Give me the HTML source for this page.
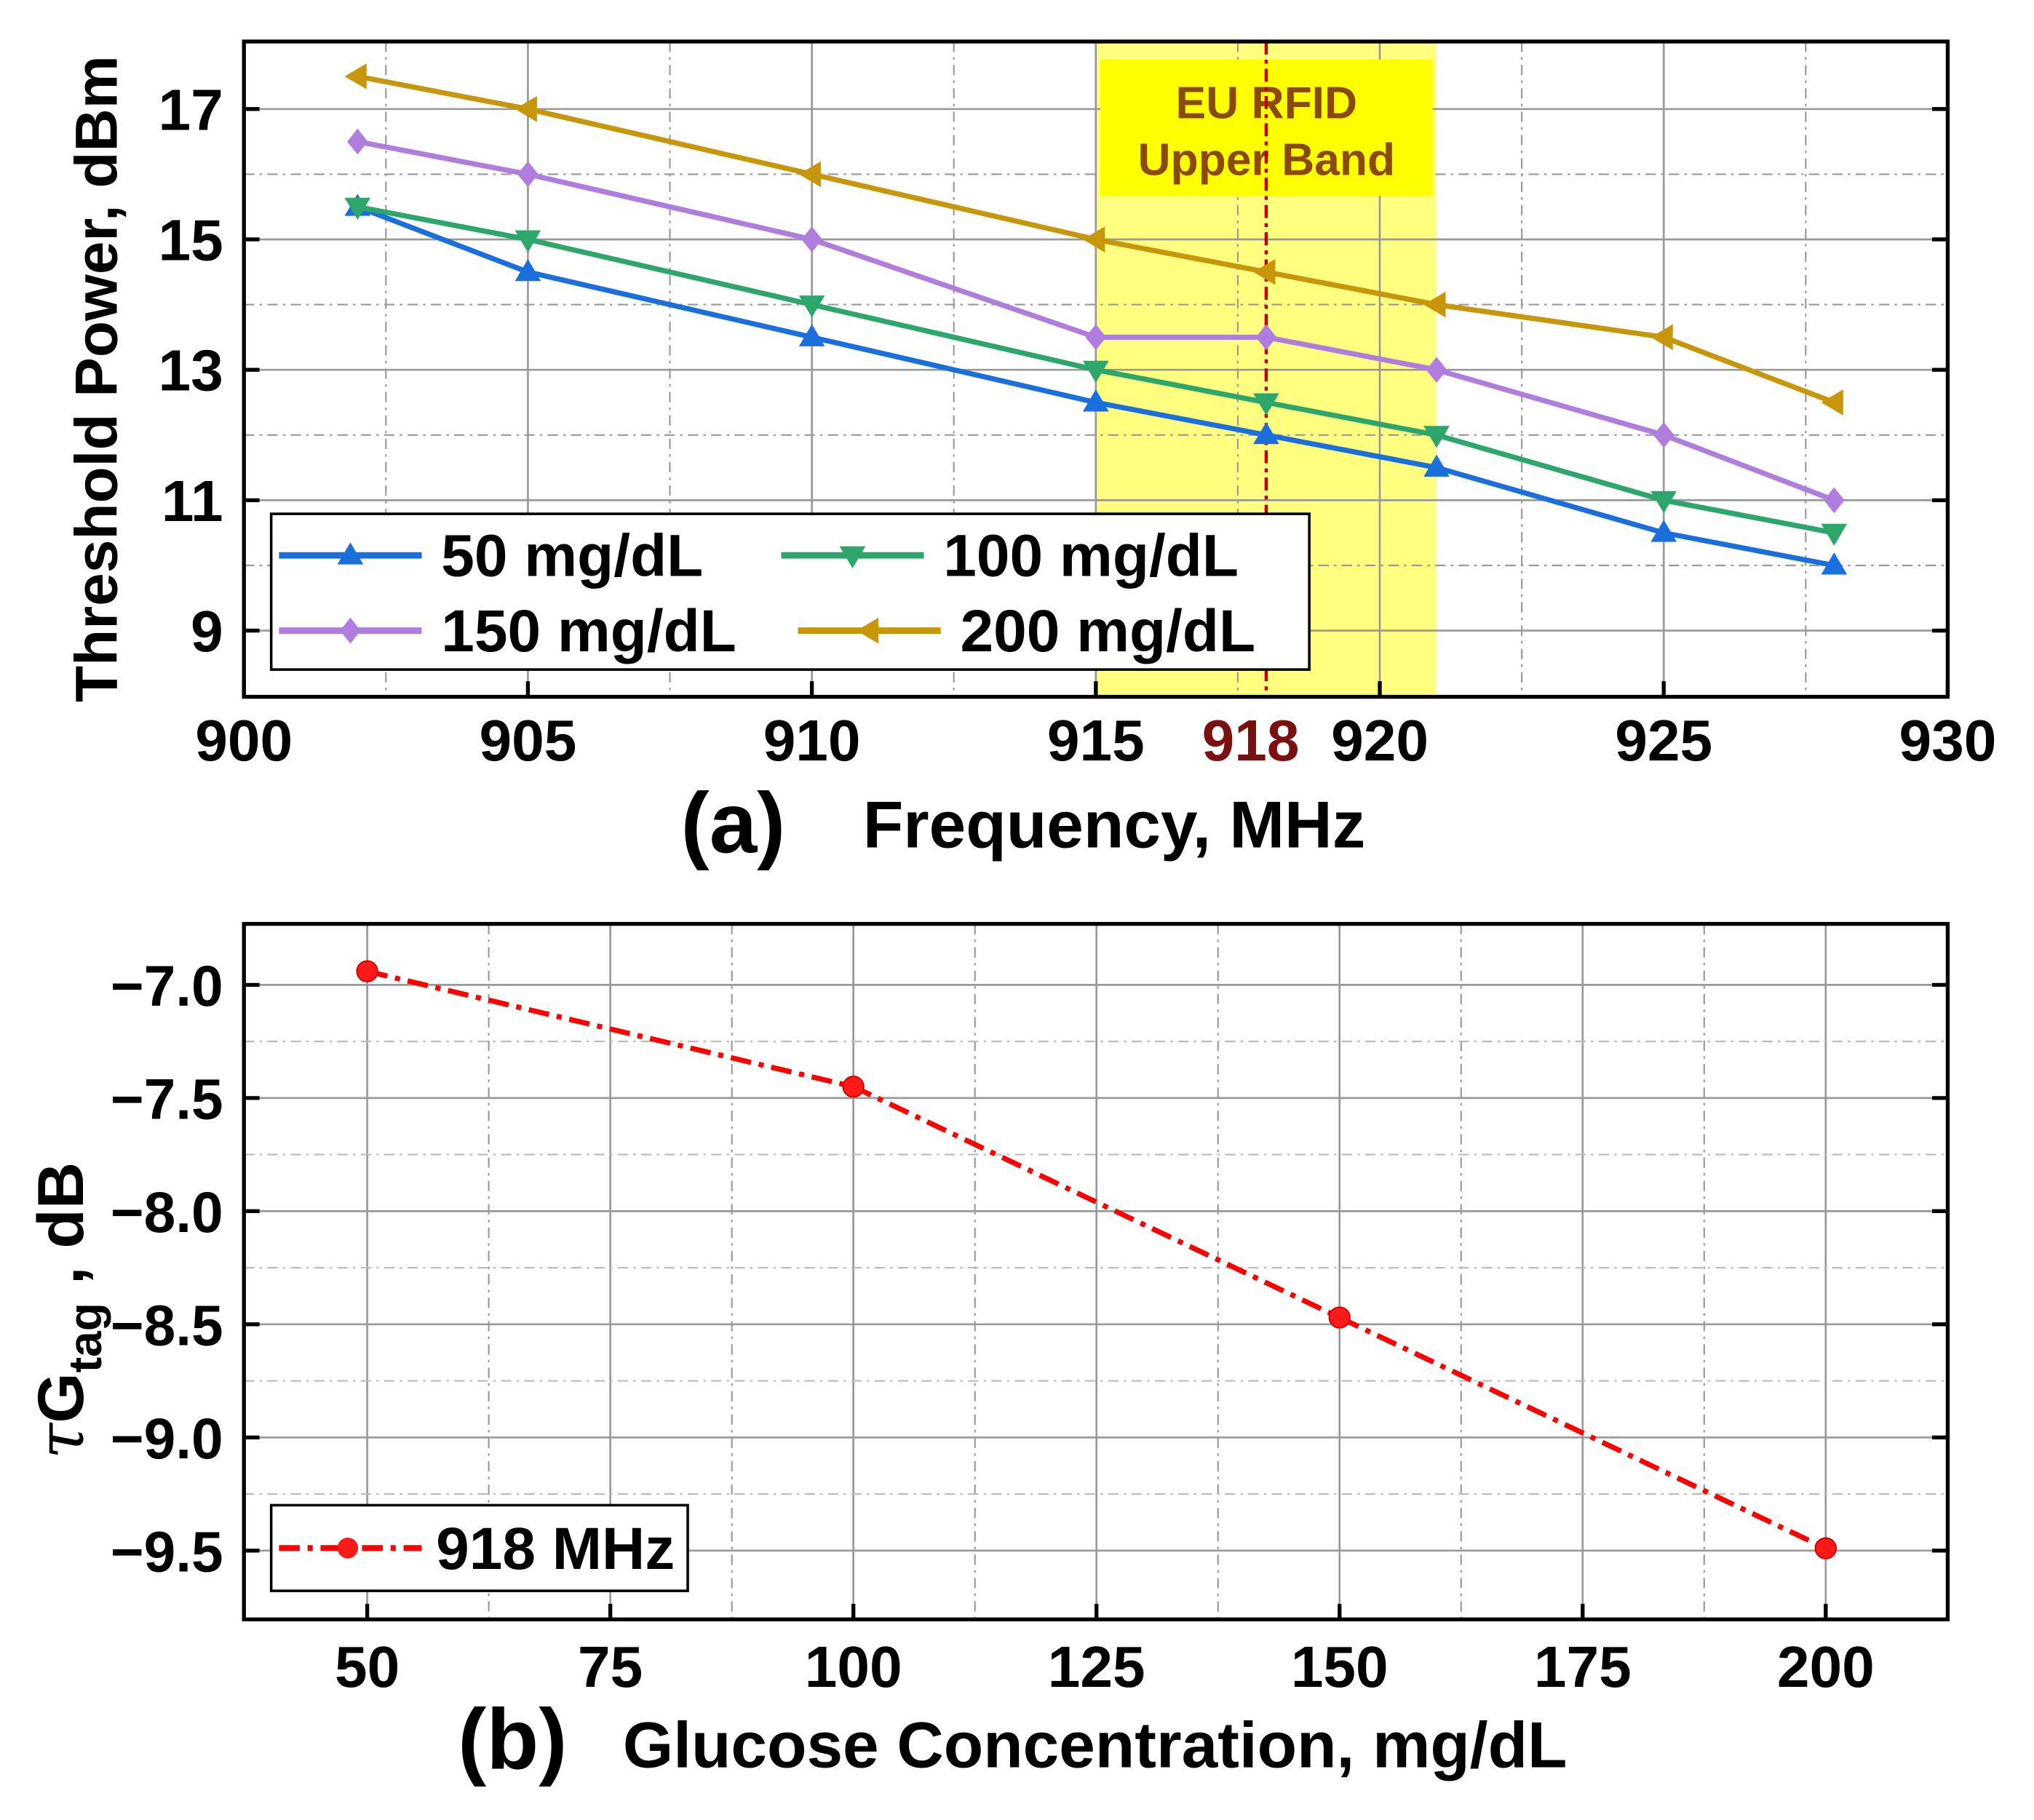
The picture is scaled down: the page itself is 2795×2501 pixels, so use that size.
<!DOCTYPE html>
<html><head><meta charset="utf-8"><style>
html,body{margin:0;padding:0;background:#fff}
svg{display:block}
text{font-family:"Liberation Sans",Arial,sans-serif;font-weight:bold}
</style></head><body>
<svg id="c" width="2795" height="2501" viewBox="0 0 1567.5 1402.6" preserveAspectRatio="none" xmlns="http://www.w3.org/2000/svg"></svg>
<script>
const freqs=[902,905,910,915,918,921,925,928];
const s50=[15.5,14.5,13.5,12.5,12,11.5,10.5,10];
const s100=[15.5,15,14,13,12.5,12,11,10.5];
const s150=[16.5,16,15,13.5,13.5,13,12,11];
const s200=[17.5,17,16,15,14.5,14,13.5,12.5];
const xTicksA=[900,905,910,915,920,925,930];
const yTicksA=[9,11,13,15,17];
const conc=[50,100,150,200];
const gain=[-6.94,-7.45,-8.47,-9.49];
const xTicksB=[50,75,100,125,150,175,200];
const yTicksB=[-7.0,-7.5,-8.0,-8.5,-9.0,-9.5];

const svg=document.getElementById('c');
const NS='http://www.w3.org/2000/svg';
function el(tag,attrs,parent){const e=document.createElementNS(NS,tag);for(const k in attrs)e.setAttribute(k,attrs[k]);(parent||svg).appendChild(e);return e;}
function txt(s,attrs,parent){const e=el('text',attrs,parent);e.textContent=s;return e;}

// ===== Chart A =====
const L=188,R=1501,AT=32,AB=537;
const xa=v=>L+(v-900)/30*(R-L);
const ya=v=>486+(9-v)*(486-84)/8;
const gA=el('g',{});

let b=el('rect',{x:xa(915),y:AT,width:xa(921)-xa(915),height:AB-AT,fill:'#ffff80'},gA);

for(let v=902.5;v<930;v+=5){el('line',{x1:xa(v),x2:xa(v),y1:AT,y2:AB,stroke:'#999','stroke-width':1.2,'stroke-dasharray':'8 4 2 4'},gA);}
for(const v of xTicksA.slice(1,-1)){el('line',{x1:xa(v),x2:xa(v),y1:AT,y2:AB,stroke:'#999','stroke-width':1.5},gA);}
for(let v=10;v<=16;v+=2){el('line',{x1:L,x2:R,y1:ya(v),y2:ya(v),stroke:'#999','stroke-width':1.2,'stroke-dasharray':'8 4 2 4'},gA);}
for(const v of yTicksA){el('line',{x1:L,x2:R,y1:ya(v),y2:ya(v),stroke:'#999','stroke-width':1.5},gA);}
let lb=el('rect',{x:848,y:46,width:256,height:105,fill:'#ffff00'},gA);

txt('EU RFID',{x:976,y:91,'text-anchor':'middle','font-size':35,fill:'#8b4a0a'},gA);
txt('Upper Band',{x:976,y:135,'text-anchor':'middle','font-size':35,fill:'#8b4a0a'},gA);
let vl=el('line',{x1:xa(918),x2:xa(918),y1:AT,y2:AB,stroke:'#c00000','stroke-width':2.5,'stroke-dasharray':'10 4 3 4'},gA);

function marker(kind,x,y,c,g){
  const s=10;let p;
  if(kind==='up')p=`${x},${y-s} ${x+s},${y+s*0.7} ${x-s},${y+s*0.7}`;
  else if(kind==='down')p=`${x},${y+s} ${x+s},${y-s*0.7} ${x-s},${y-s*0.7}`;
  else if(kind==='diamond')p=`${x},${y-s} ${x+s*0.8},${y} ${x},${y+s} ${x-s*0.8},${y}`;
  else p=`${x-s},${y} ${x+s*0.7},${y-s} ${x+s*0.7},${y+s}`;
  el('polygon',{points:p,fill:c},g);
}
const series=[[s50,'#1a6fdc','up','series-50'],[s100,'#2ca66a','down','series-100'],[s150,'#b07ddf','diamond','series-150'],[s200,'#c8960a','left','series-200']];
for(const [d,c,k,n] of series){
  const g=el('g',{},gA);
  el('polyline',{points:d.map((v,i)=>xa(freqs[i])+','+ya(v)).join(' '),fill:'none',stroke:c,'stroke-width':4,'stroke-linejoin':'round'},g);
  d.forEach((v,i)=>marker(k,xa(freqs[i]),ya(v),c,g));
}
const lg=el('g',{},gA);
el('rect',{x:209,y:396,width:800,height:120,fill:'#fff',stroke:'#000','stroke-width':2},lg);
const leg=[[215,325,428,340,'50 mg/dL',0],[602,712,428,727,'100 mg/dL',1],[215,325,486,340,'150 mg/dL',2],[615,725,486,740,'200 mg/dL',3]];
for(const [x1,x2,y,tx,t,i] of leg){
  const c=series[i][1];
  el('line',{x1,x2,y1:y,y2:y,stroke:c,'stroke-width':5},lg);
  marker(series[i][2],(x1+x2)/2,y,c,lg);
  const e=txt(t,{x:tx,y:y+16,'font-size':46,fill:'#000'},lg);
}
el('rect',{x:L,y:AT,width:R-L,height:AB-AT,fill:'none',stroke:'#000','stroke-width':3},gA);
for(const v of yTicksA){el('line',{x1:L,x2:L+12,y1:ya(v),y2:ya(v),stroke:'#000','stroke-width':3},gA);el('line',{x1:R-12,x2:R,y1:ya(v),y2:ya(v),stroke:'#000','stroke-width':3},gA);
  txt(String(v),{x:172,y:ya(v)+16,'text-anchor':'end','font-size':45},gA);}
for(const v of xTicksA){el('line',{x1:xa(v),x2:xa(v),y1:AB-12,y2:AB,stroke:'#000','stroke-width':3},gA);
  txt(String(v),{x:xa(v),y:586,'text-anchor':'middle','font-size':45},gA);}
txt('918',{x:xa(918)-12,y:586,'text-anchor':'middle','font-size':45,fill:'#7a1010'},gA);
txt('Threshold Power, dBm',{x:0,y:0,transform:'translate(90,292) rotate(-90)','text-anchor':'middle','font-size':46},gA);
txt('(a)',{x:565,y:657,'text-anchor':'middle','font-size':66},gA);
txt('Frequency, MHz',{x:665,y:653,'font-size':51},gA);

// ===== Chart B =====
const BT=712,BB=1248;
const xb=v=>283+(v-50)/150*(1407-283);
const yb=v=>759+(-7-v)/2.5*(1195-759);
const gB=el('g',{});
for(let v=62.5;v<200;v+=25){el('line',{x1:xb(v),x2:xb(v),y1:BT,y2:BB,stroke:'#999','stroke-width':1.2,'stroke-dasharray':'8 4 2 4'},gB);}
for(const v of xTicksB){el('line',{x1:xb(v),x2:xb(v),y1:BT,y2:BB,stroke:'#999','stroke-width':1.5},gB);}
for(let v=-7.25;v>-9.6;v-=0.5){el('line',{x1:L,x2:R,y1:yb(v),y2:yb(v),stroke:'#bbb','stroke-width':1.2,'stroke-dasharray':'8 4 2 4'},gB);}
for(const v of yTicksB){el('line',{x1:L,x2:R,y1:yb(v),y2:yb(v),stroke:'#999','stroke-width':1.5},gB);}
const sg=el('g',{},gB);
el('polyline',{points:gain.map((v,i)=>xb(conc[i])+','+yb(v)).join(' '),fill:'none',stroke:'#ff0000','stroke-width':4,'stroke-dasharray':'16 6 4 6'},sg);
gain.forEach((v,i)=>el('circle',{cx:xb(conc[i]),cy:yb(v),r:8,fill:'#ff1a1a',stroke:'#c00','stroke-width':1},sg));
const lgb=el('g',{},gB);
el('rect',{x:209,y:1160,width:321,height:66,fill:'#fff',stroke:'#000','stroke-width':2},lgb);
el('line',{x1:215,x2:325,y1:1193,y2:1193,stroke:'#ff0000','stroke-width':4.5,'stroke-dasharray':'16 6 4 6'},lgb);
el('circle',{cx:268,cy:1193,r:8,fill:'#ff1a1a'},lgb);
txt('918 MHz',{x:336,y:1209,'font-size':46},lgb);
el('rect',{x:L,y:BT,width:R-L,height:BB-BT,fill:'none',stroke:'#000','stroke-width':3},gB);
for(const v of yTicksB){el('line',{x1:L,x2:L+12,y1:yb(v),y2:yb(v),stroke:'#000','stroke-width':3},gB);el('line',{x1:R-12,x2:R,y1:yb(v),y2:yb(v),stroke:'#000','stroke-width':3},gB);
  txt('\u2212'+Math.abs(v).toFixed(1),{x:172,y:yb(v)+16,'text-anchor':'end','font-size':44},gB);}
for(const v of xTicksB){el('line',{x1:xb(v),x2:xb(v),y1:BB-12,y2:BB,stroke:'#000','stroke-width':3},gB);
  txt(String(v),{x:xb(v),y:1300,'text-anchor':'middle','font-size':45},gB);}
const yt=el('text',{transform:'translate(64,1010) rotate(-90)','text-anchor':'middle','font-size':50},gB);

yt.innerHTML='<tspan font-weight="normal" font-family="DejaVu Serif, serif" font-style="italic">τ</tspan>G<tspan font-size="36" dy="14">tag</tspan><tspan dy="-14"> , dB</tspan>';
txt('(b)',{x:395,y:1363,'text-anchor':'middle','font-size':66},gB);
txt('Glucose Concentration, mg/dL',{x:480,y:1362,'font-size':50},gB);
</script>
</body></html>
